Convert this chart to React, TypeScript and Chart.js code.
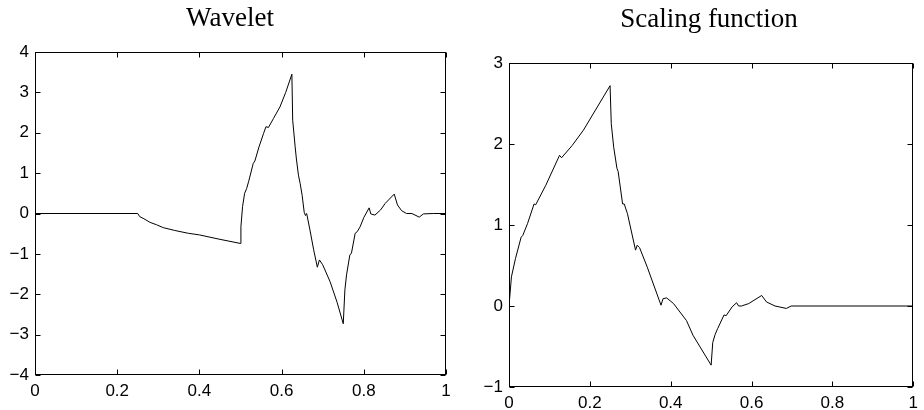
import { useEffect, useRef } from "react";
import { Chart, registerables } from "chart.js";

Chart.register(...registerables);

// ---- Data ----
const waveletT = [
  0, 0.25, 0.255, 0.265, 0.28, 0.296, 0.312, 0.34, 0.373, 0.4, 0.45, 0.499,
  0.501, 0.505, 0.51, 0.515, 0.52, 0.531, 0.535, 0.545, 0.556, 0.562, 0.568,
  0.58, 0.596, 0.61, 0.625, 0.627, 0.633, 0.636, 0.641, 0.645, 0.65, 0.655,
  0.658, 0.661, 0.669, 0.678, 0.687, 0.692, 0.7, 0.718, 0.735, 0.75, 0.754,
  0.758, 0.766, 0.77, 0.779, 0.784, 0.791, 0.8, 0.813, 0.817, 0.827, 0.841,
  0.852, 0.874, 0.882, 0.892, 0.904, 0.917, 0.935, 0.945, 0.97, 1.0,
];
const waveletV = [
  0, 0, -0.08, -0.13, -0.22, -0.28, -0.35, -0.42, -0.49, -0.53, -0.64, -0.74,
  -0.33, 0.17, 0.5, 0.62, 0.8, 1.24, 1.3, 1.65, 1.98, 2.15, 2.13,
  2.35, 2.64, 3.0, 3.45, 2.31, 1.65, 1.35, 0.95, 0.75, 0.45, 0.03,
  -0.05, 0.0, -0.41, -0.9, -1.33, -1.15, -1.27, -1.69, -2.2, -2.73, -1.89,
  -1.52, -1.03, -0.98, -0.49, -0.45, -0.33, -0.1, 0.14, -0.01, -0.04, 0.09,
  0.25, 0.48, 0.21, 0.07, 0.0, 0.0, -0.09, -0.01, 0.0, 0,
];

const scalingT = [
  0, 0.006, 0.016, 0.03, 0.034, 0.046, 0.062, 0.066, 0.091, 0.125, 0.13,
  0.156, 0.184, 0.25, 0.253, 0.259, 0.267, 0.27, 0.281, 0.285, 0.293, 0.313,
  0.317, 0.323, 0.342, 0.376, 0.381, 0.39, 0.407, 0.439, 0.455, 0.5, 0.504,
  0.51, 0.516, 0.532, 0.537, 0.552, 0.563, 0.568, 0.575, 0.593, 0.625, 0.637,
  0.658, 0.686, 0.698, 1.0,
];
const scalingV = [
  0, 0.36, 0.585, 0.85, 0.87, 1.02, 1.26, 1.25, 1.49, 1.86, 1.83,
  1.98, 2.17, 2.72, 2.25, 1.96, 1.7, 1.66, 1.26, 1.26, 1.14, 0.69,
  0.75, 0.72, 0.48, 0.01, 0.09, 0.1, 0.03, -0.18, -0.36, -0.73, -0.45,
  -0.35, -0.28, -0.11, -0.12, -0.01, 0.04, 0.0, 0.0, 0.03, 0.13, 0.05,
  0.0, -0.03, 0.0, 0,
];

const xTickStep = 0.2;

// ---- Helpers ----
const fmt = (v: number) => {
  const r = Math.round(v * 10) / 10;
  return r < 0 ? "\u2212" + String(Math.abs(r)) : String(r);
};

const framePlugin = {
  id: "matlabFrame",
  afterDraw(chart: any, _args: any, opts: any) {
    const { ctx, chartArea, scales } = chart;
    const L = Math.round(chartArea.left) + 0.5;
    const R = Math.round(chartArea.right) - 0.5;
    const T = Math.round(chartArea.top) + 0.5;
    const B = Math.round(chartArea.bottom) - 0.5;
    const tl = 5;
    ctx.save();
    ctx.strokeStyle = "#000";
    ctx.lineWidth = 1;
    ctx.beginPath();
    for (const t of scales.x.ticks) {
      const px = Math.round(scales.x.getPixelForValue(t.value)) + 0.5;
      ctx.moveTo(px, B);
      ctx.lineTo(px, B - tl);
      ctx.moveTo(px, T);
      ctx.lineTo(px, T + tl);
    }
    for (const t of scales.y.ticks) {
      const py = Math.round(scales.y.getPixelForValue(t.value)) + 0.5;
      ctx.moveTo(L, py);
      ctx.lineTo(L + tl, py);
      ctx.moveTo(R, py);
      ctx.lineTo(R - tl, py);
    }
    ctx.stroke();
    ctx.strokeRect(L, T, R - L, B - T);
    ctx.fillStyle = "#000";
    ctx.font = '27px "Liberation Serif", "Times New Roman", serif';
    ctx.textAlign = "center";
    ctx.textBaseline = "alphabetic";
    ctx.fillText(opts.text, opts.x, opts.y);
    ctx.restore();
  },
};

type PanelProps = {
  xs: number[];
  ys: number[];
  yMin: number;
  yMax: number;
  title: string;
  titleX: number;
  titleY: number;
  pad: { left: number; right: number; top: number; bottom: number };
  yWidth: number;
  xHeight: number;
  xPad: number;
  left: number;
};

function Panel(p: PanelProps) {
  const ref = useRef<HTMLCanvasElement | null>(null);
  useEffect(() => {
    if (!ref.current) return;
    const data = p.xs.map((x, i) => ({ x, y: p.ys[i] }));
    const tickFont = { family: '"Liberation Sans", Arial, sans-serif', size: 17 };
    const chart = new Chart(ref.current, {
      type: "line",
      data: {
        datasets: [
          {
            data,
            borderColor: "#000",
            borderWidth: 1,
            pointRadius: 0,
            tension: 0,
            fill: false,
          },
        ],
      },
      options: {
        animation: false,
        responsive: false,
        devicePixelRatio: 1,
        layout: { padding: p.pad },
        plugins: {
          legend: { display: false },
          tooltip: { enabled: false },
          title: { display: false },
          matlabFrame: { text: p.title, x: p.titleX, y: p.titleY },
        } as any,
        scales: {
          x: {
            type: "linear",
            min: 0,
            max: 1,
            grid: { display: false, drawTicks: false },
            border: { display: false },
            ticks: {
              stepSize: xTickStep,
              autoSkip: false,
              maxRotation: 0,
              padding: p.xPad,
              color: "#000",
              font: tickFont,
              callback: (v: any) => fmt(Number(v)),
            },
            afterFit: (s: any) => {
              s.height = p.xHeight;
            },
          },
          y: {
            type: "linear",
            min: p.yMin,
            max: p.yMax,
            grid: { display: false, drawTicks: false },
            border: { display: false },
            ticks: {
              stepSize: 1,
              autoSkip: false,
              padding: 6,
              color: "#000",
              font: tickFont,
              callback: (v: any) => fmt(Number(v)),
            },
            afterFit: (s: any) => {
              s.width = p.yWidth;
            },
          },
        },
      },
      plugins: [framePlugin],
    });
    return () => chart.destroy();
  }, []);
  return (
    <canvas
      ref={ref}
      width={462}
      height={410}
      style={{ position: "absolute", left: p.left, top: 0, width: 462, height: 410 }}
    />
  );
}

export default function App() {
  return (
    <div
      style={{
        position: "absolute",
        left: 0,
        top: 0,
        width: 924,
        height: 410,
        background: "#fff",
        overflow: "hidden",
      }}
    >
      <Panel
        xs={waveletT}
        ys={waveletV}
        yMin={-4}
        yMax={4}
        title="Wavelet"
        titleX={230}
        titleY={26}
        pad={{ left: 0, right: 16, top: 52, bottom: 0 }}
        yWidth={35}
        xHeight={35}
        xPad={6}
        left={0}
      />
      <Panel
        xs={scalingT}
        ys={scalingV}
        yMin={-1}
        yMax={3}
        title="Scaling function"
        titleX={247}
        titleY={26.5}
        pad={{ left: 0, right: 3, top: 63, bottom: 0 }}
        yWidth={47}
        xHeight={23}
        xPad={6}
        left={462}
      />
    </div>
  );
}
